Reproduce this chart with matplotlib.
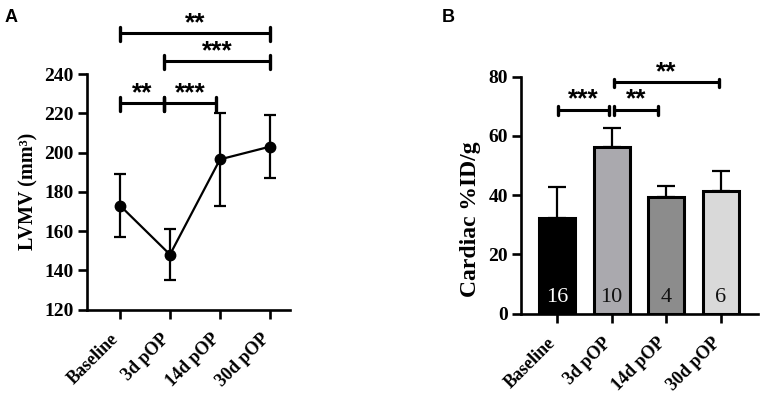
import matplotlib
matplotlib.use("Agg")
import matplotlib.pyplot as plt
import matplotlib.transforms as mtransforms
import numpy as np

# ---------------- data ----------------
categories = ["Baseline", "3d pOP", "14d pOP", "30d pOP"]

lvmv_mean = [173, 148, 196.5, 203]
lvmv_sd = [16, 13, 23.5, 16]

cardiac_mean = [32.3, 56.2, 39.2, 41.5]
cardiac_err = [10.4, 6.4, 3.9, 6.6]
n_labels = ["16", "10", "4", "6"]
bar_colors = ["#000000", "#aaa9ae", "#8c8c8c", "#d9d9d9"]
n_text_colors = ["white", "#111111", "#111111", "#111111"]

# significance brackets: (x start, x end, y, label)
sig_A = [(0.0, 3.0, 260.7, "**"),
         (0.88, 3.0, 246.6, "***"),
         (0.0, 0.88, 225.1, "**"),
         (0.88, 1.93, 225.1, "***")]
sig_B = [(0.02, 0.96, 68.8, "***"),
         (1.05, 1.85, 68.8, "**"),
         (1.05, 2.96, 78.1, "**")]

serif = "Liberation Serif"
sans = "Liberation Sans"

fig = plt.figure(figsize=(7.65, 3.96), dpi=100)

LW = 1.9


def style_axes(ax):
    for s in ["top", "right"]:
        ax.spines[s].set_visible(False)
    for s in ["left", "bottom"]:
        ax.spines[s].set_linewidth(LW)
    ax.tick_params(axis="both", width=LW, length=6.5, direction="out",
                   labelsize=14, pad=3)
    for lab in ax.get_yticklabels():
        lab.set_fontfamily(serif)
        lab.set_fontweight("bold")
    ax.set_xticks(range(len(categories)))
    ax.set_xticklabels(categories, rotation=45, ha="right",
                       rotation_mode="anchor", fontfamily=serif,
                       fontweight="bold", fontsize=13)
    off = mtransforms.ScaledTranslation(-7 / 72, -5.5 / 72,
                                        fig.dpi_scale_trans)
    for lab in ax.get_xticklabels():
        lab.set_transform(lab.get_transform() + off)


def brackets(ax, items, cap, star_off):
    for x1, x2, y, lab in items:
        ax.plot([x1, x2], [y, y], color="black", lw=2.2, clip_on=False,
                solid_capstyle="butt")
        for x in (x1, x2):
            ax.plot([x, x], [y - cap, y + cap * 0.8], color="black", lw=2.4,
                    clip_on=False, solid_capstyle="round")
        ax.text((x1 + x2) / 2, y + star_off, lab, ha="center", va="center",
                fontsize=19, fontweight="bold", fontfamily=sans,
                clip_on=False)


# ---------------- Panel A ----------------
axA = fig.add_axes([0.1133, 0.2184, 0.2658, 0.5947])
x = np.arange(len(categories))
axA.errorbar(x, lvmv_mean, yerr=lvmv_sd, color="black", lw=1.6,
             elinewidth=1.6, capsize=4.5, capthick=1.6, marker="o",
             markersize=7.5, clip_on=False, zorder=3)
axA.set_xlim(-0.666, 3.4)
axA.set_ylim(120, 240)
axA.set_yticks(np.arange(120, 241, 20))
style_axes(axA)
axA.set_ylabel("LVMV (mm³)", fontfamily=serif, fontweight="bold",
               fontsize=14.5)
axA.yaxis.set_label_coords(-0.235, 0.5)
brackets(axA, sig_A, cap=4.0, star_off=5.0)

# ---------------- Panel B ----------------
axB = fig.add_axes([0.681, 0.2083, 0.3098, 0.598])
axB.bar(x, cardiac_mean, width=0.66, color=bar_colors, edgecolor="black",
        linewidth=2.2, zorder=2)
axB.errorbar(x, cardiac_mean, yerr=[np.zeros(len(x)), cardiac_err],
             fmt="none", ecolor="black", elinewidth=1.6, capsize=6.5,
             capthick=1.6, zorder=1)
for xi, t, c in zip(x, n_labels, n_text_colors):
    axB.text(xi, 5.5, t, ha="center", va="center", color=c,
             fontfamily=serif, fontsize=16, zorder=4)
axB.set_xlim(-0.658, 3.675)
axB.set_ylim(0, 80)
axB.set_yticks(np.arange(0, 81, 20))
style_axes(axB)
axB.set_ylabel("Cardiac %ID/g", fontfamily=serif, fontweight="bold",
               fontsize=17)
axB.yaxis.set_label_coords(-0.17, 0.40)
brackets(axB, sig_B, cap=1.6, star_off=3.5)

# panel letters
fig.text(11 / 765, 1 - 18 / 396, "A", fontfamily=sans, fontweight="bold",
         fontsize=13, ha="center", va="center")
fig.text(448 / 765, 1 - 18 / 396, "B", fontfamily=sans, fontweight="bold",
         fontsize=13, ha="center", va="center")

fig.savefig("out.png", dpi=100)
